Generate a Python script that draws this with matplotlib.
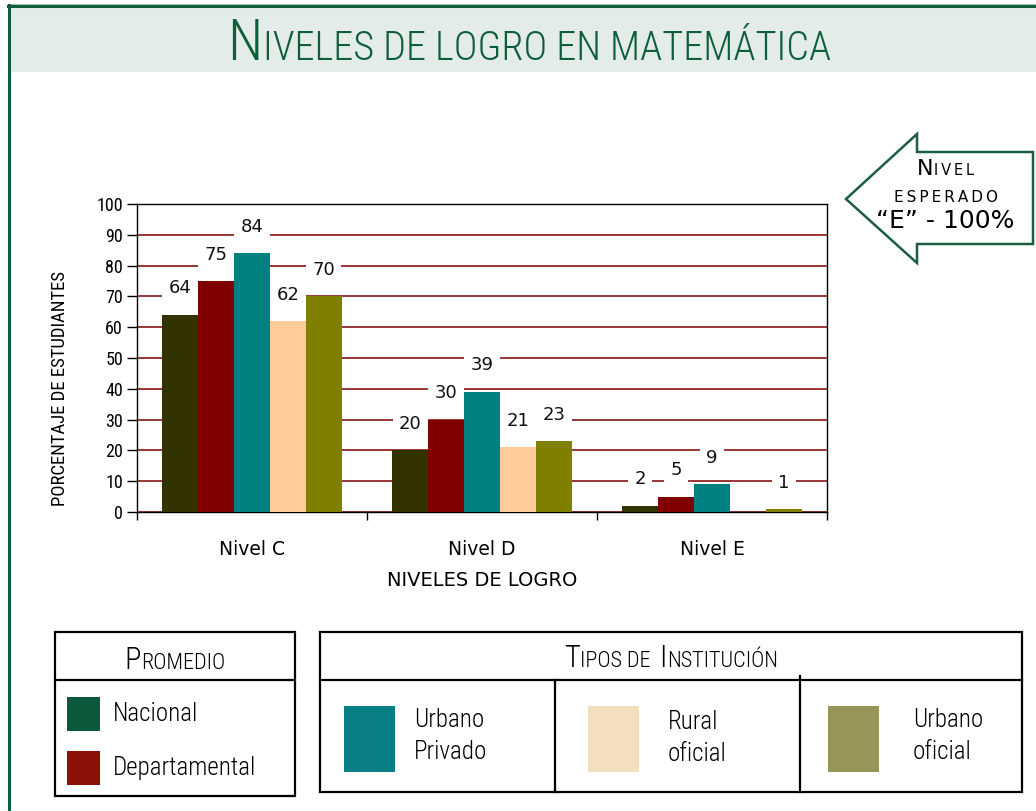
import matplotlib
matplotlib.use('Agg')
import matplotlib.pyplot as plt
from matplotlib import font_manager as fm
from matplotlib.patches import Rectangle, Polygon
from matplotlib.lines import Line2D
import numpy as np

# ---------------- data ----------------
categories = ['Nivel C', 'Nivel D', 'Nivel E']
series_names = ['Nacional', 'Departamental', 'Urbano Privado', 'Rural oficial', 'Urbano oficial']
nacional = [64, 20, 2]
departamental = [75, 30, 5]
urbano_privado = [84, 39, 9]
rural_oficial = [62, 21, 0]
urbano_oficial = [70, 23, 1]
y_ticks = [0, 10, 20, 30, 40, 50, 60, 70, 80, 90, 100]

bar_colors = ['#333300', '#800000', '#008080', '#FFCC99', '#808000']
legend_promedio = [('Nacional', '#0B5A3C'), ('Departamental', '#8B1008')]
legend_tipos = [('Urbano\nPrivado', '#077F85'), ('Rural\noficial', '#F2DFBE'),
                ('Urbano\noficial', '#979557')]

# ---------------- fonts ----------------
entries = fm.fontManager.ttflist
names = {f.name for f in entries}
COND = None
for cand in ['Roboto Condensed', 'Liberation Sans Narrow', 'Open Sans Condensed']:
    if cand in names:
        COND = dict(family=cand, stretch='normal')
        break
if COND is None:
    if any(f.name == 'DejaVu Sans' and str(f.stretch) == 'condensed' for f in entries):
        COND = dict(family='DejaVu Sans', stretch='condensed')
    else:
        COND = dict(family='DejaVu Sans', stretch='normal')
COND_L = dict(COND, weight='light')
NORM = dict(family='DejaVu Sans')

W, H = 1036, 811
fig = plt.figure(figsize=(W / 100, H / 100), dpi=100)
fig.patch.set_facecolor('white')

# background overlay in pixel coordinates
bg = fig.add_axes([0, 0, 1, 1], zorder=0)
bg.set_xlim(0, W)
bg.set_ylim(H, 0)
bg.axis('off')

GREEN = '#0E5E3C'
bg.add_patch(Rectangle((10, 7), W - 10, 65, fc='#E3ECE8', ec='none'))
bg.add_line(Line2D([8, W], [3.5, 3.5], color='#A8C8B8', lw=0.8))
bg.add_line(Line2D([8, W], [5.8, 5.8], color=GREEN, lw=2.2))
bg.add_line(Line2D([9, 9], [4.5, H], color=GREEN, lw=2.2))

renderer = fig.canvas.get_renderer()


def smallcaps(xc, yb, parts, color, fkw):
    texts = []
    for s, size, gap in parts:
        t = bg.text(0, yb, s, fontsize=size, color=color, ha='left', va='baseline', **fkw)
        texts.append((t, gap))
    widths = [t.get_window_extent(renderer).width for t, g in texts]
    total = sum(widths) + sum(g for _, g in texts)
    x = xc - total / 2
    for (t, g), w in zip(texts, widths):
        t.set_x(x)
        x += w + g
    return total


# title
smallcaps(529, 60, [('N', 41, 1), ('IVELES DE LOGRO EN MATEMÁTICA', 29, 0)], GREEN, COND_L)

# ---------------- chart ----------------
ax = fig.add_axes([137 / W, 1 - 512 / H, 690 / W, 308 / H], zorder=2)
x = np.arange(len(categories))
w = 0.156
series = [nacional, departamental, urbano_privado, rural_oficial, urbano_oficial]
ax.set_axisbelow(True)
for i, (vals, c) in enumerate(zip(series, bar_colors)):
    xs = x + (i - 2) * w
    ax.bar(xs, vals, width=w, color=c, linewidth=0, zorder=3, label=series_names[i])
    for xi, v in zip(xs, vals):
        if v > 0:
            ax.annotate(str(v), (xi, v), xytext=(0, 19), textcoords='offset points',
                        ha='center', va='center', fontsize=13, color='#111111',
                        bbox=dict(boxstyle='square,pad=0.35', fc='white', ec='none'),
                        zorder=4, **NORM)

ax.set_ylim(0, 100)
ax.set_xlim(-0.5, 2.5)
ax.set_yticks(y_ticks)
ax.set_yticklabels([str(v) for v in y_ticks], fontsize=13, **COND)
ax.yaxis.grid(True, color='#800000', lw=1.1)
ax.tick_params(axis='y', direction='out', length=7, width=1, pad=3)
ax.set_xticks(x)
ax.set_xticklabels(categories, fontsize=13.5, **NORM)
ax.set_xticks([-0.5, 0.5, 1.5, 2.5], minor=True)
ax.tick_params(axis='x', which='major', length=0, pad=20)
ax.tick_params(axis='x', which='minor', direction='out', length=6, width=1)
for s in ax.spines.values():
    s.set_color('black')
    s.set_linewidth(1)
ax.set_ylabel('PORCENTAJE DE ESTUDIANTES', fontsize=13.5, **COND)
ax.yaxis.set_label_coords(-0.098, 0.40)
ax.set_xlabel('NIVELES DE LOGRO', fontsize=14, **NORM)
ax.xaxis.set_label_coords(0.5, -0.19)

# ---------------- arrow ----------------
arrow_pts = [(846, 199), (917, 134), (917, 152), (1033, 152), (1033, 244), (917, 244), (917, 263)]
bg.add_patch(Polygon(arrow_pts, closed=True, fc='white', ec='#1B5E40', lw=1.8, zorder=2))
smallcaps(945, 175, [('N', 16, 0.5), ('\u2009'.join('IVEL'), 10.5, 0)], 'black', NORM)
bg.text(946, 202, '\u2009'.join('ESPERADO'), fontsize=11, ha='center', va='baseline',
        color='black', **NORM)
bg.text(945, 228, '“E” - 100%', fontsize=18, ha='center', va='baseline', color='black', **NORM)

# ---------------- legend boxes ----------------
LW = 1.6
bg.add_patch(Rectangle((55, 632), 240, 164, fc='none', ec='black', lw=LW))
bg.add_line(Line2D([55, 295], [680, 680], color='black', lw=LW))
smallcaps(175, 669, [('P', 22, 0.5), ('ROMEDIO', 16, 0)], 'black', COND_L)
for (lab, col), yc in zip(legend_promedio, [714, 768]):
    bg.add_patch(Rectangle((67, yc - 17), 33, 34, fc=col, ec='none'))
    bg.text(113, yc, lab, fontsize=18, ha='left', va='center', color='black', **COND_L)

bg.add_patch(Rectangle((320, 632), 702, 160, fc='none', ec='black', lw=LW))
bg.add_line(Line2D([320, 1022], [680, 680], color='black', lw=LW))
bg.add_line(Line2D([555, 555], [680, 792], color='black', lw=LW))
bg.add_line(Line2D([800, 800], [676, 792], color='black', lw=LW))
smallcaps(671, 667, [('T', 22, 0.5), ('IPOS DE', 16, 8), ('I', 22, 0.5), ('NSTITUCIÓN', 16, 0)],
          'black', COND_L)
for (lab, col), sx, tx, yc in zip(legend_tipos, [344, 588, 828], [414, 668, 913], [736, 738, 736]):
    bg.add_patch(Rectangle((sx, 706), 51, 66, fc=col, ec='none'))
    bg.text(tx, yc, lab, fontsize=18, ha='left', va='center', color='black',
            linespacing=1.42, **COND_L)

fig.savefig('out.png', dpi=100, facecolor='white')
